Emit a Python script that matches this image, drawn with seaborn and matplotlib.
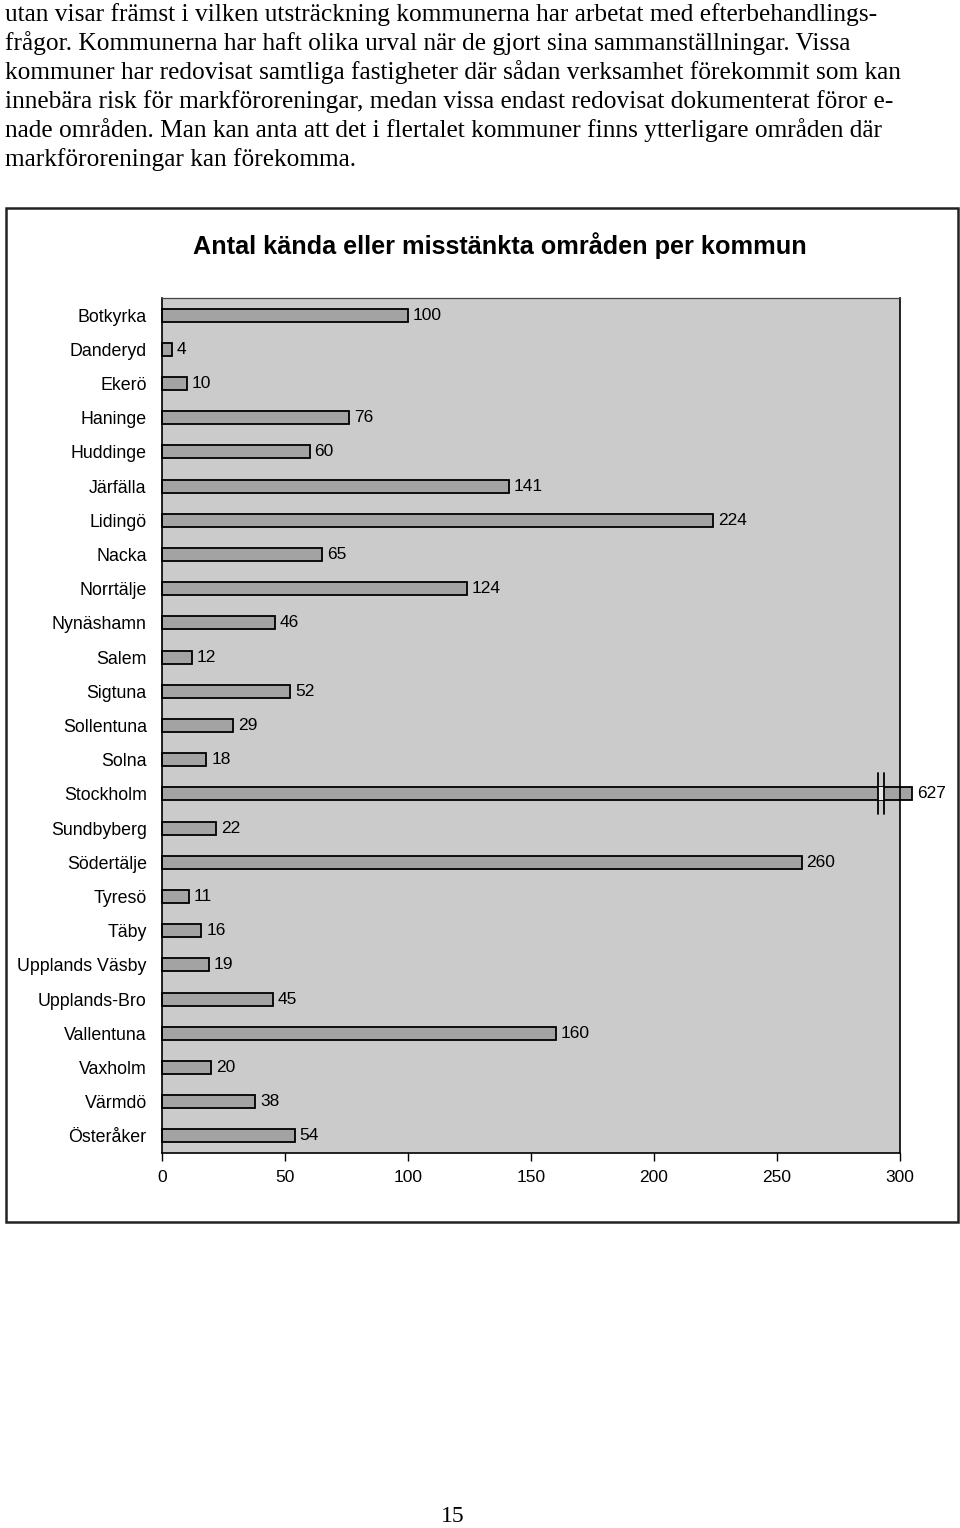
import matplotlib
matplotlib.use("Agg")
import matplotlib.pyplot as plt
import seaborn as sns
import pandas as pd
import numpy as np
from matplotlib.patches import Rectangle

paragraph_lines = [
    "utan visar främst i vilken utsträckning kommunerna har arbetat med efterbehandlings-",
    "frågor. Kommunerna har haft olika urval när de gjort sina sammanställningar. Vissa",
    "kommuner har redovisat samtliga fastigheter där sådan verksamhet förekommit som kan",
    "innebära risk för markföroreningar, medan vissa endast redovisat dokumenterat föror e-",
    "nade områden. Man kan anta att det i flertalet kommuner finns ytterligare områden där",
    "markföroreningar kan förekomma.",
]
title = "Antal kända eller misstänkta områden per kommun"
kommuner = ["Botkyrka", "Danderyd", "Ekerö", "Haninge", "Huddinge", "Järfälla",
            "Lidingö", "Nacka", "Norrtälje", "Nynäshamn", "Salem", "Sigtuna",
            "Sollentuna", "Solna", "Stockholm", "Sundbyberg", "Södertälje",
            "Tyresö", "Täby", "Upplands Väsby", "Upplands-Bro", "Vallentuna",
            "Vaxholm", "Värmdö", "Österåker"]
antal = [100, 4, 10, 76, 60, 141, 224, 65, 124, 46, 12, 52, 29, 18, 627,
         22, 260, 11, 16, 19, 45, 160, 20, 38, 54]
x_ticks = [0, 50, 100, 150, 200, 250, 300]
page_number = "15"

axis_max = 300
break_overshoot = 305  # drawn length of bars beyond the axis break

sns.set_theme(style="white")
plt.rcParams["font.family"] = ["Liberation Sans", "DejaVu Sans"]
for k in ["text.color", "axes.labelcolor", "xtick.color", "ytick.color"]:
    plt.rcParams[k] = "black"

fig = plt.figure(figsize=(9.6, 15.28), dpi=100)

# paragraph text
for i, line in enumerate(paragraph_lines):
    fig.text(5 / 960, 1 - (21 + 29 * i) / 1528, line, ha="left", va="baseline",
             fontsize=18.3, family=["Liberation Serif", "DejaVu Serif"])

fig.text(453 / 960, 1 - 1527 / 1528, page_number, ha="center", va="bottom",
         fontsize=17, family=["Liberation Serif", "DejaVu Serif"])

# chart border
fig.patches.append(Rectangle((6 / 960, 1 - 1222 / 1528), 952 / 960, 1014 / 1528,
                             transform=fig.transFigure, fill=False,
                             edgecolor="#222222", linewidth=1.8))

fig.text(500 / 960, 1 - 246 / 1528, title, ha="center", va="center",
         fontsize=18.2, fontweight="bold")

ax = fig.add_axes([162 / 960, 1 - 1153 / 1528, 738 / 960, 855 / 1528])
ax.set_facecolor("#CBCBCB")

df = pd.DataFrame({"kommun": kommuner, "antal": antal})
df["visad"] = df["antal"].where(df["antal"] <= axis_max, break_overshoot)
sns.barplot(data=df, x="visad", y="kommun", orient="h", color="#A3A3A3",
            saturation=1, width=0.38, edgecolor="black", linewidth=1.3, ax=ax)
for p in ax.patches:
    p.set_clip_on(False)

ax.set_xlim(0, axis_max)
ax.set_ylim(len(kommuner) - 0.5, -0.5)
ax.set_xticks(x_ticks)
ax.set_xticklabels([str(t) for t in x_ticks], fontsize=12.5)
ax.set_xlabel("")
ax.set_ylabel("")
ax.tick_params(axis="x", bottom=True, direction="out", length=6, width=1,
               color="black", pad=6)
ax.tick_params(axis="y", left=False, pad=5, labelsize=12.8)
for s in ax.spines.values():
    s.set_visible(True)
    s.set_color("black")
    s.set_linewidth(1.2)
ax.spines["top"].set_color("#444444")
ax.spines["top"].set_linewidth(0.9)

# value labels
for i, (v, shown) in enumerate(zip(df["antal"], df["visad"])):
    ax.text(shown + 2, i, str(v), ha="left", va="center", fontsize=12.5,
            clip_on=False)
    if v > axis_max:
        bx1, bx2 = 291.0, 293.6
        ax.add_patch(Rectangle((bx1, i - 0.19), bx2 - bx1, 0.38,
                               facecolor="#E8E8E8", edgecolor="none", zorder=5))
        ax.plot([bx1, bx1], [i - 0.6, i + 0.6], color="black", lw=1.3, zorder=6,
                clip_on=False)
        ax.plot([bx2, bx2], [i - 0.6, i + 0.6], color="black", lw=1.3, zorder=6,
                clip_on=False)

fig.savefig("out.png", dpi=100)
